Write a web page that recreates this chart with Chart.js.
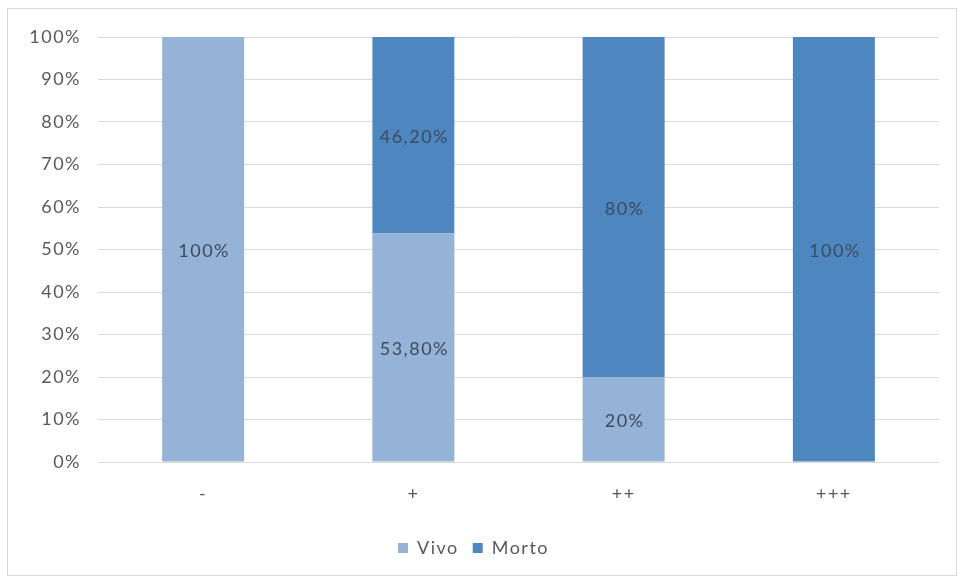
<!DOCTYPE html>
<html>
<head>
<meta charset="utf-8">
<script src="https://cdn.jsdelivr.net/npm/chart.js@4/dist/chart.umd.min.js"></script>
<style>
  html, body { margin: 0; padding: 0; background: #fff; }
  #frame {
    position: absolute; left: 7px; top: 8px;
    width: 948px; height: 566px;
    border: 1px solid #d9d9d9;
  }
  #frame canvas { display: block; }
</style>
</head>
<body>
<div id="frame"><canvas id="chart" width="948" height="566"></canvas></div>
<script>
const categories = ['-', '+', '++', '+++']
const vivo  = [100, 53.8, 20, 0]
const morto = [0, 46.2, 80, 100]
const yTicks = [0, 10, 20, 30, 40, 50, 60, 70, 80, 90, 100]

const FONT = "Lato, 'Open Sans', sans-serif"
const fmt = v => Number.isInteger(v) ? v + '%' : v.toFixed(2).replace('.', ',') + '%'

// wide, airy lettering for every text the chart draws
const spacing = {
  id: 'spacing',
  beforeLayout(chart) { chart.ctx.letterSpacing = '1.5px' },
  beforeDraw(chart) { chart.ctx.letterSpacing = '1.5px' },
}

// value labels centred inside each stacked segment
const segmentLabels = {
  id: 'segmentLabels',
  afterDatasetsDraw(chart) {
    const ctx = chart.ctx
    ctx.save()
    ctx.font = '18px ' + FONT
    ctx.fillStyle = '#3d4b5e'
    ctx.textAlign = 'center'
    ctx.textBaseline = 'middle'
    chart.data.datasets.forEach((ds, i) => {
      chart.getDatasetMeta(i).data.forEach((bar, j) => {
        const v = ds.data[j]
        if (!v) return
        const { x, y, base } = bar.getProps(['x', 'y', 'base'], true)
        ctx.fillText(fmt(v), x + 1, (y + base) / 2 + 2)
      })
    })
    ctx.restore()
  }
}

new Chart(document.getElementById('chart'), {
  type: 'bar',
  data: {
    labels: categories,
    datasets: [
      { label: 'Vivo',  data: vivo,  backgroundColor: '#95b3d7' },
      { label: 'Morto', data: morto, backgroundColor: '#4e86c0' },
    ],
  },
  options: {
    responsive: false,
    animation: false,
    layout: { padding: { left: 0, right: 17, top: 28, bottom: 8 } },
    datasets: { bar: { categoryPercentage: 1, barPercentage: 0.39 } },
    plugins: {
      tooltip: { enabled: false },
      legend: {
        position: 'bottom',
        labels: {
          boxWidth: 10, boxHeight: 10, padding: 14,
          color: '#595959',
          font: { family: FONT, size: 18 },
        },
      },
    },
    scales: {
      x: {
        stacked: true,
        grid: { display: false, drawTicks: false },
        border: { color: '#d9d9d9' },
        ticks: { color: '#595959', padding: 21, font: { family: FONT, size: 18 } },
        afterFit: axis => { axis.height = 63 },
      },
      y: {
        stacked: true,
        min: 0, max: 100,
        afterBuildTicks: axis => { axis.ticks = yTicks.map(v => ({ value: v })) },
        afterFit: axis => { axis.width = 90 },
        grid: { color: '#d9d9d9', drawTicks: false },
        border: { display: false },
        ticks: {
          color: '#595959', padding: 17,
          font: { family: FONT, size: 18 },
          callback: v => v + '%',
        },
      },
    },
  },
  plugins: [spacing, segmentLabels],
})
</script>
</body>
</html>
